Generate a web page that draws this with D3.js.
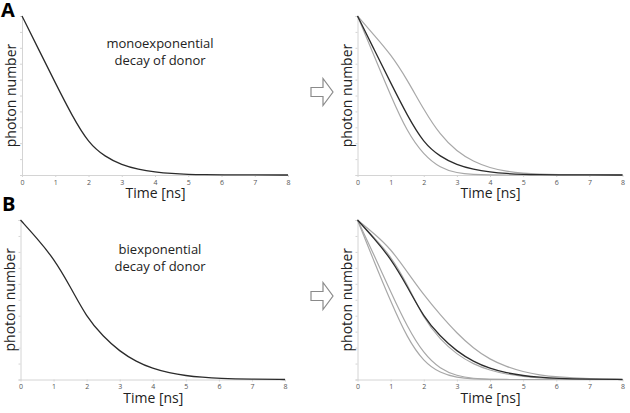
<!DOCTYPE html>
<html>
<head>
<meta charset="utf-8">
<script src="https://cdn.jsdelivr.net/npm/d3@7"></script>
<style>
  body { margin: 0; background: #fff; }
  text { font-family: "Open Sans", sans-serif; }
</style>
</head>
<body>
<svg width="630" height="413"></svg>
<script>
// time points (ns) the curves were read at
var times = [0, 0.5, 1, 1.5, 2, 2.5, 3, 3.5, 4, 4.5, 5, 5.5, 6, 7, 8];
var xTicks = [0, 1, 2, 3, 4, 5, 6, 7, 8];

// A: monoexponential donor decay (normalised photon number)
var monoDonor = [1, 0.79, 0.58, 0.375, 0.2, 0.115, 0.063, 0.035, 0.019, 0.009, 0.004, 0.002, 0.001, 0, 0];
var monoSlow  = [1, 0.88, 0.76, 0.6, 0.41, 0.25, 0.147, 0.084, 0.044, 0.022, 0.011, 0.005, 0.002, 0, 0];
var monoFast  = [1, 0.75, 0.5, 0.27, 0.126, 0.044, 0.012, 0.003, 0, 0, 0, 0, 0, 0, 0];

// B: biexponential donor decay
var biDonor = [1, 0.885, 0.76, 0.585, 0.39, 0.27, 0.176, 0.112, 0.068, 0.041, 0.024, 0.014, 0.007, 0.002, 0];
var biSlow  = [1, 0.916, 0.82, 0.675, 0.53, 0.405, 0.29, 0.195, 0.125, 0.08, 0.048, 0.028, 0.016, 0.004, 0];
var biNear  = [1, 0.89, 0.775, 0.6, 0.38, 0.25, 0.157, 0.096, 0.057, 0.033, 0.019, 0.01, 0.005, 0.001, 0];
var biFast1 = [1, 0.74, 0.49, 0.26, 0.11, 0.04, 0.012, 0.003, 0, 0, 0, 0, 0, 0, 0];
var biFast2 = [1, 0.78, 0.55, 0.33, 0.16, 0.065, 0.022, 0.006, 0.001, 0, 0, 0, 0, 0, 0];

var svg = d3.select("svg");

var dark = "#2b2b2b", grey = "#a8a8a8";

// draw one small plot; box = pixel extents of the axes
function drawPanel(box, curves, note) {
  var x = d3.scaleLinear().domain([0, 8]).range([box.x0, box.x1]);
  var y = d3.scaleLinear().domain([0, 1]).range([box.y1, box.y0]);
  var g = svg.append("g");

  // y axis: light line with small ticks, no labels
  g.append("g")
      .attr("transform", "translate(" + box.x0 + ",0)")
      .call(d3.axisLeft(y).ticks(10).tickSize(2).tickFormat(""))
      .call(function(a) {
        a.selectAll("line, path").attr("stroke", "#d4d4d4");
      });

  // x axis
  var xa = g.append("g")
      .attr("transform", "translate(0," + box.y1 + ")")
      .call(d3.axisBottom(x).tickValues(xTicks).tickSize(2).tickPadding(3).tickSizeOuter(0));
  xa.selectAll("line, path").attr("stroke", "#d4d4d4");
  xa.selectAll("text").attr("font-size", 7).attr("fill", "#555");

  var line = d3.line()
      .x(function(d, i) { return x(times[i]); })
      .y(function(d) { return y(d); })
      .curve(d3.curveBasis);

  // grey curves first, dark donor curve on top
  curves.forEach(function(c) {
    g.append("path")
        .attr("d", line(c.values))
        .attr("fill", "none")
        .attr("stroke", c.dark ? dark : grey)
        .attr("stroke-width", c.dark ? 1.3 : 1.2);
  });

  g.append("text")
      .attr("transform", "translate(" + (box.x0 - 6) + "," + ((box.y0 + box.y1) / 2) + ") rotate(-90)")
      .attr("text-anchor", "middle")
      .attr("font-size", 14)
      .attr("fill", "#222")
      .text("photon number");

  g.append("text")
      .attr("x", (box.x0 + box.x1) / 2 + 0.5)
      .attr("y", box.y1 + 23)
      .attr("text-anchor", "middle")
      .attr("font-size", 14)
      .attr("fill", "#222")
      .text("Time [ns]");

  if (note) {
    note.lines.forEach(function(t, i) {
      g.append("text")
          .attr("x", note.x)
          .attr("y", note.y + i * 17)
          .attr("text-anchor", "middle")
          .attr("font-size", 13)
          .attr("fill", "#222")
          .text(t);
    });
  }
}

function drawArrow(cx, cy) {
  var pts = [[-11, -4.5], [1, -4.5], [1, -13.5], [11, 0], [1, 13.5], [1, 4.5], [-11, 4.5]];
  svg.append("polygon")
      .attr("points", pts.map(function(p) { return (cx + p[0]) + "," + (cy + p[1]); }).join(" "))
      .attr("fill", "#fff")
      .attr("stroke", "#8a8a8a")
      .attr("stroke-width", 1.2);
}

drawPanel({x0: 22, x1: 288, y0: 16, y1: 175},
  [{values: monoDonor, dark: true}],
  {x: 160, y: 48, lines: ["monoexponential", "decay of donor"]});

drawPanel({x0: 357.5, x1: 622.5, y0: 16, y1: 175},
  [{values: monoSlow}, {values: monoFast}, {values: monoDonor, dark: true}]);

drawPanel({x0: 20.5, x1: 285, y0: 220, y1: 379.5},
  [{values: biDonor, dark: true}],
  {x: 160, y: 254, lines: ["biexponential", "decay of donor"]});

drawPanel({x0: 357.5, x1: 622.5, y0: 220, y1: 379.5},
  [{values: biSlow}, {values: biNear}, {values: biFast1}, {values: biFast2}, {values: biDonor, dark: true}]);

drawArrow(322, 92);
drawArrow(322, 296);

// panel letters
svg.append("text").attr("x", 1).attr("y", 17)
    .attr("font-family", "Arial, 'Liberation Sans', sans-serif")
    .attr("font-weight", "bold").attr("font-size", 20).text("A");
svg.append("text").attr("x", 2).attr("y", 211)
    .attr("font-family", "Arial, 'Liberation Sans', sans-serif")
    .attr("font-weight", "bold").attr("font-size", 20).text("B");
</script>
</body>
</html>
